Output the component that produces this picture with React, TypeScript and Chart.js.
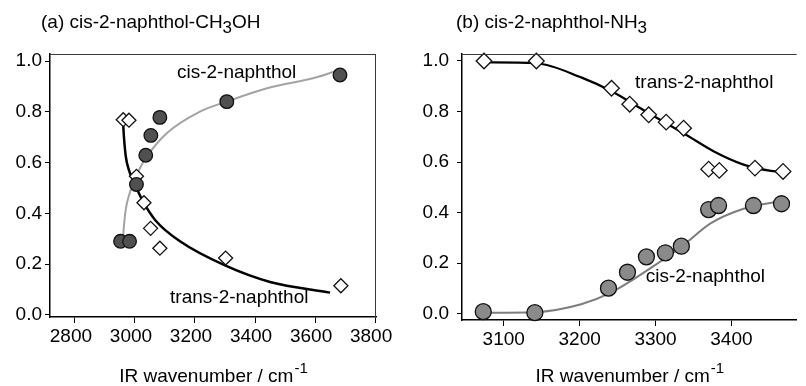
import React, { useEffect, useRef } from "react";
import { Chart, registerables } from "chart.js";

Chart.register(...registerables);

// ---------- Panel (a): cis-2-naphthol-CH3OH ----------
const aCisX = [2952, 2982, 3005, 3036, 3053, 3083, 3306, 3683];
const aCisY = [0.29, 0.29, 0.514, 0.629, 0.707, 0.778, 0.84, 0.945];
const aTransX = [2961, 2980, 3005, 3030, 3052, 3083, 3302, 3686];
const aTransY = [0.769, 0.767, 0.546, 0.442, 0.341, 0.263, 0.224, 0.115];
const aCisFitX = [2960, 2964, 2970, 2980, 2995, 3015, 3040, 3105, 3215, 3305, 3440, 3605, 3672];
const aCisFitY = [0.3, 0.36, 0.42, 0.47, 0.52, 0.575, 0.625, 0.715, 0.8, 0.84, 0.893, 0.936, 0.962];
const aTransFitX = [2960, 2964, 2970, 2980, 2992, 3005, 3030, 3070, 3150, 3300, 3450, 3650];
const aTransFitY = [0.765, 0.69, 0.62, 0.57, 0.535, 0.5, 0.44, 0.37, 0.29, 0.195, 0.13, 0.088];
const aXTicks = [2800, 3000, 3200, 3400, 3600, 3800];

// ---------- Panel (b): cis-2-naphthol-NH3 ----------
const bTransX = [3074, 3143, 3242, 3266, 3291, 3314, 3337, 3370, 3384, 3431, 3468];
const bTransY = [1.0, 1.0, 0.892, 0.829, 0.787, 0.758, 0.734, 0.572, 0.567, 0.576, 0.563];
const bCisX = [3073, 3141, 3238, 3263, 3288, 3313, 3334, 3370, 3383, 3429, 3466];
const bCisY = [0.008, 0.004, 0.101, 0.164, 0.225, 0.241, 0.267, 0.412, 0.428, 0.428, 0.435];
const bTransFitX = [3074, 3143, 3202, 3242, 3290, 3338, 3377, 3416, 3452, 3462];
const bTransFitY = [0.995, 0.991, 0.935, 0.88, 0.795, 0.712, 0.642, 0.59, 0.565, 0.562];
const bCisFitX = [3073, 3141, 3202, 3241, 3291, 3335, 3373, 3416, 3455, 3466];
const bCisFitY = [0.004, 0.006, 0.037, 0.083, 0.175, 0.267, 0.358, 0.415, 0.44, 0.443];
const bXTicks = [3100, 3200, 3300, 3400];

const yTicks = [0, 0.2, 0.4, 0.6, 0.8, 1.0];

const FONT = "'Liberation Sans', Arial, Helvetica, sans-serif";

const pts = (xs: number[], ys: number[]) => xs.map((x, i) => ({ x, y: ys[i] }));

type Lbl = { text: string; x: number; y: number };
type PanelCfg = {
  title: [string, string, string];
  titleX: number;
  labels: Lbl[];
  drawRight: boolean;
};

function makeTextPlugin(cfg: PanelCfg) {
  return {
    id: "texts",
    afterDraw(chart: any) {
      const ctx = chart.ctx as CanvasRenderingContext2D;
      const ca = chart.chartArea;
      const xs = chart.scales.x;
      const ys = chart.scales.y;
      ctx.save();
      // frame (top, right)
      ctx.strokeStyle = "#3a3a3a";
      ctx.lineWidth = 1;
      ctx.beginPath();
      ctx.moveTo(ca.left, ca.top + 0.5);
      ctx.lineTo(ca.right, ca.top + 0.5);
      if (cfg.drawRight) {
        ctx.moveTo(ca.right - 0.5, ca.top);
        ctx.lineTo(ca.right - 0.5, ca.bottom);
      }
      ctx.stroke();

      ctx.fillStyle = "#000";
      ctx.textBaseline = "alphabetic";
      ctx.textAlign = "left";
      // panel title with subscript
      const big = `19px ${FONT}`;
      const sub = `17px ${FONT}`;
      let tx = cfg.titleX;
      const ty = 28;
      ctx.font = big;
      ctx.fillText(cfg.title[0], tx, ty);
      tx += ctx.measureText(cfg.title[0]).width;
      ctx.font = sub;
      ctx.fillText(cfg.title[1], tx, ty + 5);
      tx += ctx.measureText(cfg.title[1]).width;
      ctx.font = big;
      ctx.fillText(cfg.title[2], tx, ty);

      // series labels
      ctx.font = big;
      ctx.textBaseline = "middle";
      for (const l of cfg.labels) {
        ctx.fillText(l.text, xs.getPixelForValue(l.x), ys.getPixelForValue(l.y));
      }

      // x-axis title with superscript
      ctx.textBaseline = "alphabetic";
      const main = "IR wavenumber / cm";
      const sup = "-1";
      ctx.font = big;
      const w1 = ctx.measureText(main).width;
      ctx.font = `15px ${FONT}`;
      const w2 = ctx.measureText(sup).width;
      const cx = (ca.left + ca.right) / 2;
      const sx = cx - (w1 + w2) / 2;
      const by = 382;
      ctx.font = big;
      ctx.fillText(main, sx, by);
      ctx.font = `15px ${FONT}`;
      ctx.fillText(sup, sx + w1 + 1, by - 9);
      ctx.restore();
    },
  };
}

type ChartSpec = {
  width: number;
  yAxisWidth: number;
  xAxisHeight: number;
  padRight: number;
  xMin: number;
  xMax: number;
  yMin: number;
  yMax: number;
  xTicks: number[];
  xLabelOffset: number;
  yPad: number;
  datasets: any[];
  panel: PanelCfg;
};

function PanelChart({ spec, left }: { spec: ChartSpec; left: number }) {
  const ref = useRef<HTMLCanvasElement | null>(null);
  useEffect(() => {
    const canvas = ref.current!;
    const chart = new Chart(canvas, {
      type: "scatter",
      data: { datasets: spec.datasets },
      options: {
        responsive: false,
        animation: false,
        devicePixelRatio: 1,
        layout: { padding: { top: 54, right: spec.padRight, bottom: 0, left: 0 } },
        plugins: { legend: { display: false }, tooltip: { enabled: false }, title: { display: false } },
        scales: {
          x: {
            type: "linear",
            min: spec.xMin,
            max: spec.xMax,
            afterBuildTicks: (s: any) => {
              s.ticks = spec.xTicks.map((v) => ({ value: v }));
            },
            afterFit: (s: any) => {
              s.height = spec.xAxisHeight;
            },
            ticks: {
              color: "#000",
              font: { size: 19, family: FONT },
              padding: 2,
              maxRotation: 0,
              labelOffset: spec.xLabelOffset,
              callback: (v: any) => String(v),
            },
            grid: { drawOnChartArea: false, drawTicks: true, tickLength: 6, tickColor: "#000" },
            border: { display: true, color: "#000", width: 1.5 },
          },
          y: {
            type: "linear",
            min: spec.yMin,
            max: spec.yMax,
            afterBuildTicks: (s: any) => {
              s.ticks = yTicks.map((v) => ({ value: v }));
            },
            afterFit: (s: any) => {
              s.width = spec.yAxisWidth;
            },
            ticks: {
              color: "#000",
              font: { size: 19, family: FONT },
              padding: spec.yPad,
              callback: (v: any) => Number(v).toFixed(1),
            },
            grid: { drawOnChartArea: false, drawTicks: true, tickLength: 5, tickColor: "#000" },
            border: { display: true, color: "#000", width: 1.5 },
          },
        },
      } as any,
      plugins: [makeTextPlugin(spec.panel)],
    });
    return () => chart.destroy();
  }, [spec]);
  return (
    <canvas
      ref={ref}
      width={spec.width}
      height={386}
      style={{ position: "absolute", left, top: 0, width: spec.width, height: 386 }}
    />
  );
}

const curve = (xs: number[], ys: number[], color: string, width: number) => ({
  data: pts(xs, ys),
  showLine: true,
  borderColor: color,
  borderWidth: width,
  pointRadius: 0,
  cubicInterpolationMode: "monotone",
  fill: false,
  clip: false,
  order: 2,
});

const markers = (xs: number[], ys: number[], style: string, fill: string, r: number) => ({
  data: pts(xs, ys),
  showLine: false,
  pointStyle: style,
  pointRadius: r,
  pointBackgroundColor: fill,
  pointBorderColor: "#111",
  pointBorderWidth: 1.3,
  clip: false,
  order: 1,
});

const specA: ChartSpec = {
  width: 400,
  yAxisWidth: 50,
  xAxisHeight: 69,
  padRight: 24,
  xMin: 2717,
  xMax: 3803,
  yMin: -0.008,
  yMax: 1.0276,
  xTicks: aXTicks,
  xLabelOffset: -4,
  yPad: 3,
  datasets: [
    curve(aCisFitX, aCisFitY, "#a3a3a3", 2),
    curve(aTransFitX, aTransFitY, "#000", 2.5),
    markers(aCisX, aCisY, "circle", "#505050", 6.8),
    markers(aTransX, aTransY, "rectRot", "#fff", 7),
  ],
  panel: {
    title: ["(a) cis-2-naphthol-CH", "3", "OH"],
    titleX: 41,
    labels: [
      { text: "cis-2-naphthol", x: 3140, y: 0.955 },
      { text: "trans-2-naphthol", x: 3117, y: 0.068 },
    ],
    drawRight: true,
  },
};

const specB: ChartSpec = {
  width: 406,
  yAxisWidth: 62,
  xAxisHeight: 66,
  padRight: 0,
  xMin: 3045,
  xMax: 3486,
  yMin: -0.025,
  yMax: 1.0276,
  xTicks: bXTicks,
  xLabelOffset: 0,
  yPad: 8,
  datasets: [
    curve(bTransFitX, bTransFitY, "#000", 2.2),
    curve(bCisFitX, bCisFitY, "#7d7d7d", 2),
    markers(bTransX, bTransY, "rectRot", "#fff", 7.8),
    markers(bCisX, bCisY, "circle", "#8a8a8a", 8),
  ],
  panel: {
    title: ["(b) cis-2-naphthol-NH", "3", ""],
    titleX: 56,
    labels: [
      { text: "trans-2-naphthol", x: 3273, y: 0.913 },
      { text: "cis-2-naphthol", x: 3287, y: 0.147 },
    ],
    drawRight: false,
  },
};

export default function App() {
  return (
    <div
      style={{
        position: "absolute",
        left: 0,
        top: 0,
        width: 806,
        height: 386,
        background: "#fff",
        overflow: "hidden",
      }}
    >
      <PanelChart spec={specA} left={0} />
      <PanelChart spec={specB} left={400} />
    </div>
  );
}
